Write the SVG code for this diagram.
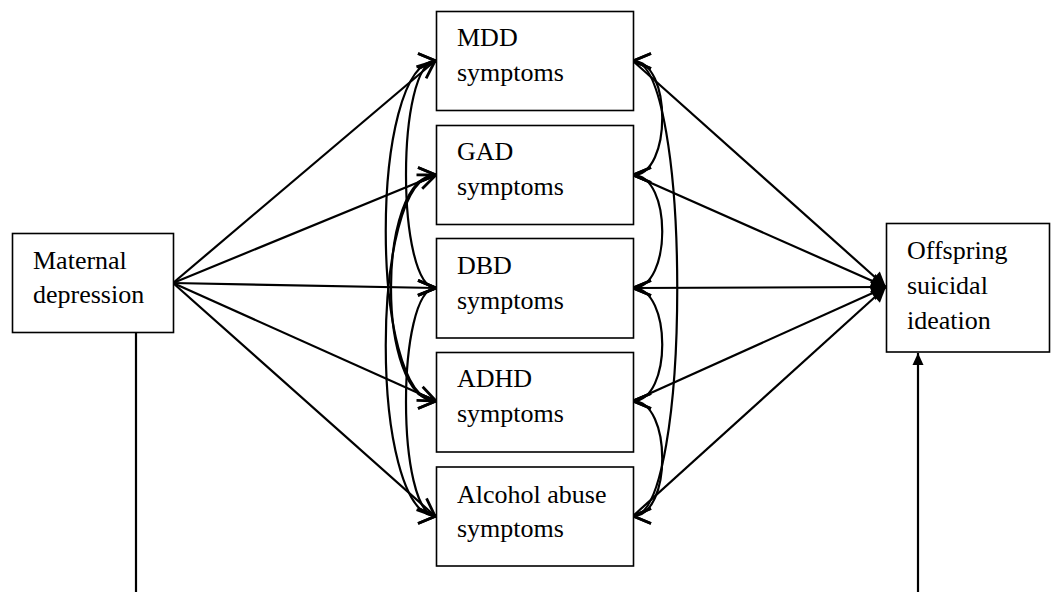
<svg xmlns="http://www.w3.org/2000/svg" width="1051" height="592" viewBox="0 0 1051 592">
<style>
.box{fill:#fff;stroke:#000;stroke-width:1.6}
.t{font-family:"Liberation Serif","Times New Roman",serif;font-size:26px;fill:#000}
.ln{fill:none;stroke:#000;stroke-width:2.2}
.op{marker-end:url(#open)}
.cv{marker-start:url(#open);marker-end:url(#open)}
.fl{marker-end:url(#fill)}
.fs{marker-end:url(#fillsm)}
</style>
<defs>
<marker id="open" markerUnits="userSpaceOnUse" markerWidth="24" markerHeight="24" refX="0" refY="0" orient="auto-start-reverse" overflow="visible">
<path d="M -18 -7.5 L 0 0 L -18 7.5" fill="none" stroke="#000" stroke-width="2.8"/>
</marker>
<marker id="fill" markerUnits="userSpaceOnUse" markerWidth="24" markerHeight="24" refX="0" refY="0" orient="auto" overflow="visible">
<path d="M -15 -7.5 L 0 0 L -15 7.5 Z" fill="#000" stroke="none"/>
</marker>
<marker id="fillsm" markerUnits="userSpaceOnUse" markerWidth="20" markerHeight="20" refX="0" refY="0" orient="auto" overflow="visible">
<path d="M -12 -5.5 L 0 0 L -12 5.5 Z" fill="#000" stroke="none"/>
</marker>
</defs>
<rect width="1051" height="592" fill="#fff"/>
<g id="connectors">
<line class="ln" x1="136" y1="332" x2="136" y2="592"/>
<line class="ln fs" x1="918" y1="592" x2="918" y2="353"/>
<line class="ln op" x1="173" y1="283" x2="435" y2="61"/>
<line class="ln op" x1="173" y1="283" x2="436" y2="175"/>
<line class="ln op" x1="173" y1="283" x2="436" y2="288"/>
<line class="ln op" x1="173" y1="283" x2="436" y2="401"/>
<line class="ln op" x1="173" y1="283" x2="435" y2="516"/>
<line class="ln fl" x1="633" y1="61" x2="886" y2="287"/>
<line class="ln fl" x1="633" y1="175" x2="886" y2="287"/>
<line class="ln fl" x1="633" y1="288" x2="886" y2="287"/>
<line class="ln fl" x1="633" y1="401" x2="886" y2="287"/>
<line class="ln fl" x1="633" y1="516" x2="886" y2="287"/>
<path class="ln cv" d="M 436 61 C 396 61 396 288 436 288"/>
<path class="ln cv" d="M 436 61 C 369 61 369 401 436 401"/>
<path class="ln cv" d="M 436 175 C 376 175 376 401 436 401"/>
<path class="ln cv" d="M 436 175 C 369 175 369 516 436 516"/>
<path class="ln cv" d="M 436 288 C 396 288 396 516 436 516"/>
<path class="ln cv" d="M 633 61 C 672 61 672 175 633 175"/>
<path class="ln cv" d="M 633 175 C 672 175 672 288 633 288"/>
<path class="ln cv" d="M 633 288 C 672 288 672 401 633 401"/>
<path class="ln cv" d="M 633 401 C 672 401 672 516 633 516"/>
<path class="ln cv" d="M 633 61 C 692 61 692 516 633 516"/>
</g>
<g id="maternal">
<rect class="box" x="12.5" y="233.5" width="161" height="99"/>
<text class="t" x="33" y="269">Maternal</text>
<text class="t" x="33" y="303">depression</text>
</g>
<g id="mdd">
<rect class="box" x="436.5" y="11.5" width="197" height="99"/>
<text class="t" x="457" y="46">MDD</text>
<text class="t" x="457" y="81">symptoms</text>
</g>
<g id="gad">
<rect class="box" x="436.5" y="125.5" width="197" height="99"/>
<text class="t" x="457" y="160">GAD</text>
<text class="t" x="457" y="195">symptoms</text>
</g>
<g id="dbd">
<rect class="box" x="436.5" y="238.5" width="197" height="99.5"/>
<text class="t" x="457" y="274">DBD</text>
<text class="t" x="457" y="309">symptoms</text>
</g>
<g id="adhd">
<rect class="box" x="436.5" y="352.5" width="197" height="99.5"/>
<text class="t" x="457" y="387">ADHD</text>
<text class="t" x="457" y="422">symptoms</text>
</g>
<g id="alcohol">
<rect class="box" x="436.5" y="467" width="197" height="99"/>
<text class="t" x="457" y="502.5">Alcohol abuse</text>
<text class="t" x="457" y="537">symptoms</text>
</g>
<g id="offspring">
<rect class="box" x="886.5" y="223.5" width="163" height="128.5"/>
<text class="t" x="907" y="259">Offspring</text>
<text class="t" x="907" y="294">suicidal</text>
<text class="t" x="907" y="329">ideation</text>
</g>
</svg>
